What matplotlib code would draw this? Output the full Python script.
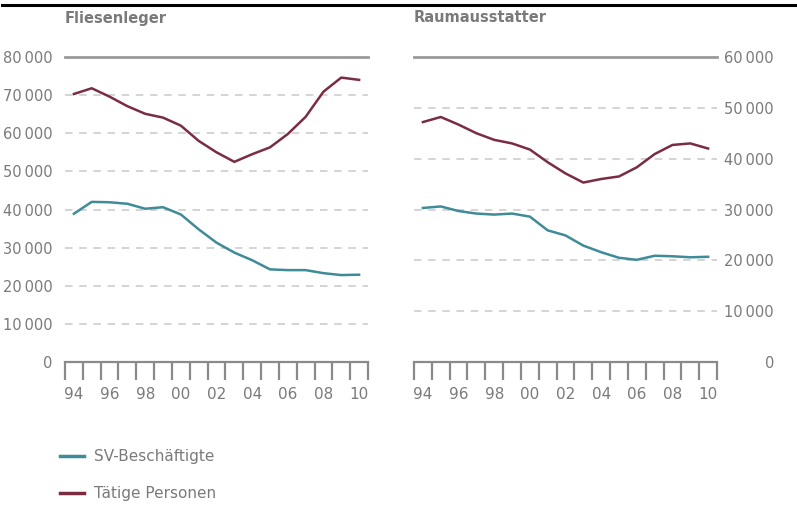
import matplotlib
matplotlib.use("Agg")
import matplotlib.pyplot as plt
from matplotlib.lines import Line2D
from matplotlib.ticker import FixedLocator, NullFormatter
import numpy as np

plt.rcParams["font.family"] = ["DejaVu Sans"]

# Daten
years = list(range(1994, 2011))
year_labels = ["94", "96", "98", "00", "02", "04", "06", "08", "10"]

fliesen_sv = [38900, 42000, 41900, 41500, 40200, 40600, 38700, 34800, 31300,
              28700, 26700, 24300, 24100, 24100, 23300, 22800, 22900]
fliesen_taetig = [70300, 71800, 69600, 67100, 65100, 64100, 62000, 58000, 55000,
                  52500, 54500, 56300, 59800, 64300, 70900, 74600, 74000]

raum_sv = [30300, 30600, 29700, 29200, 29000, 29200, 28600, 25900, 24900,
           22900, 21600, 20500, 20100, 20900, 20800, 20600, 20700]
raum_taetig = [47200, 48200, 46700, 45000, 43700, 43000, 41800, 39300, 37100,
               35300, 36000, 36500, 38300, 40900, 42700, 43000, 42000]

titles = ["Fliesenleger", "Raumausstatter"]
y_max = [80000, 60000]
legend_labels = ["SV-Beschäftigte", "Tätige Personen"]

c_sv = "#3f8b97"
c_tp = "#7a2c42"
c_text = "#7a7a7a"
c_axis = "#8a8a8a"
c_grid = "#cdcdcd"


def fmt(v):
    return f"{v:,}".replace(",", "\u2009") if v else "0"


fig = plt.figure(figsize=(7.97, 5.08), dpi=100)

# schwarze Linie oben
fig.add_artist(Line2D([0.003, 0.997], [1 - 5 / 508] * 2, color="black", lw=2.2,
                      transform=fig.transFigure))

panels = [(fliesen_sv, fliesen_taetig), (raum_sv, raum_taetig)]
lefts = [65 / 797, 414 / 797]
for i, (sv, tp) in enumerate(panels):
    ax = fig.add_axes([lefts[i], 1 - 362 / 508, 303 / 797, 305 / 508])
    x = np.arange(len(years))
    ax.plot(x, tp, color=c_tp, lw=1.8, solid_joinstyle="round", zorder=3)
    ax.plot(x, sv, color=c_sv, lw=1.8, solid_joinstyle="round", zorder=3)

    ax.set_xlim(-0.5, len(years) - 0.5)
    ax.set_ylim(0, y_max[i])

    yt = list(range(0, y_max[i] + 1, 10000))
    ax.set_yticks(yt)
    ax.set_yticklabels([fmt(v) for v in yt])
    for v in yt[1:-1]:
        ax.axhline(v, color=c_grid, lw=1.2, dashes=(4.5, 4), zorder=1)

    # x: Striche an Kategoriegrenzen, Beschriftung in der Mitte
    ax.xaxis.set_major_locator(FixedLocator(np.arange(-0.5, len(years), 1.0)))
    ax.xaxis.set_major_formatter(NullFormatter())
    ax.xaxis.set_minor_locator(FixedLocator(x[::2]))
    ax.set_xticklabels(year_labels, minor=True)
    ax.tick_params(axis="x", which="major", length=13, width=1.6, color=c_axis)
    ax.tick_params(axis="x", which="minor", length=0, pad=18, labelsize=11,
                   labelcolor=c_text)

    for s in ["left", "right"]:
        ax.spines[s].set_visible(False)
    ax.spines["bottom"].set_color(c_axis)
    ax.spines["bottom"].set_linewidth(1.6)
    ax.spines["top"].set_color("#9a9a9a")
    ax.spines["top"].set_linewidth(2)

    if i == 0:
        ax.tick_params(axis="y", length=0, pad=9, labelsize=10.5, labelcolor=c_text)
    else:
        ax.yaxis.tick_right()
        ax.tick_params(axis="y", length=0, pad=41, labelsize=10.5, labelcolor=c_text)
        for lab in ax.get_yticklabels():
            lab.set_horizontalalignment("right")

    fig.text(lefts[i], 1 - 18 / 508, titles[i], fontsize=10.5, fontweight="bold",
             color=c_text, va="center", ha="left")

handles = [Line2D([], [], color=c_sv, lw=2.5), Line2D([], [], color=c_tp, lw=2.5)]
leg = fig.legend(handles, legend_labels, loc="center left",
                 bbox_to_anchor=(60 / 797, 1 - 475 / 508), frameon=False,
                 fontsize=11, handlelength=1.6, handletextpad=0.6,
                 labelspacing=1.45, borderpad=0, borderaxespad=0)
for t in leg.get_texts():
    t.set_color(c_text)

fig.savefig("out.png", dpi=100)
